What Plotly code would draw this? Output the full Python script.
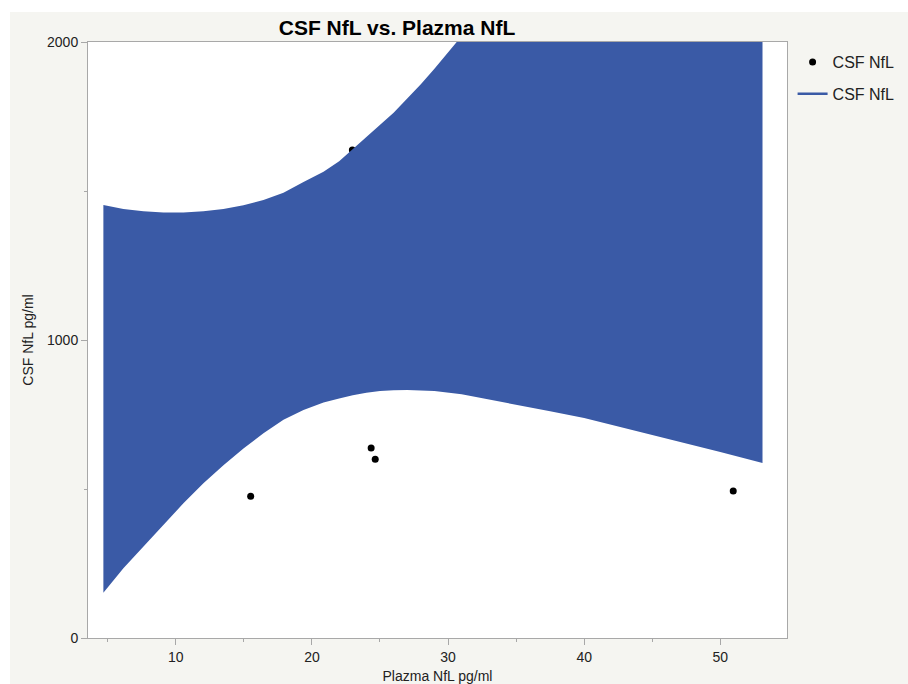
import plotly.graph_objects as go

# Observed data points
plasma_nfl = [15.5, 22.97, 24.35, 24.65, 50.95]
csf_nfl = [476, 1638, 638, 600, 493]

# Confidence band
band_x = [4.68, 6.15, 7.62, 9.09, 10.56, 12.03, 13.5, 14.97, 16.44, 17.91, 19.38, 20.85,
          22, 23, 24, 25, 26, 27, 28, 29, 31, 33, 35, 37.5, 40, 42.5, 45, 47.5, 50, 53.1]
band_upper = [1453, 1440, 1432, 1428, 1428, 1432, 1440, 1452, 1470, 1494, 1530, 1565,
              1600, 1640, 1680, 1720, 1763, 1810, 1858, 1910, 2020, 2140, 2270, 2430, 2600, 2770, 2950, 3130, 3320, 3550]
band_lower = [152, 234, 306, 379, 452, 519, 580, 636, 687, 732, 765, 790,
              804, 815, 823, 829, 831, 832, 831, 829, 818, 802, 783, 761, 738, 710, 680, 652, 624, 587]

x_ticks = [10, 20, 30, 40, 50]
y_ticks = [0, 1000, 2000]

BAND = "rgb(58,90,166)"
FONT = "Liberation Sans, Arial, Helvetica, sans-serif"
BG = "#f5f5f1"

fig = go.Figure()

fig.add_trace(go.Scatter(
    x=plasma_nfl, y=csf_nfl, mode="markers", name="CSF NfL",
    marker=dict(color="black", size=7), legendgroup="a",
))
fig.add_trace(go.Scatter(
    x=band_x + band_x[::-1], y=band_upper + band_lower[::-1],
    fill="toself", fillcolor=BAND, mode="lines", line=dict(width=0, color=BAND),
    showlegend=False, hoverinfo="skip",
))
fig.add_trace(go.Scatter(
    x=[None], y=[None], mode="lines", name="CSF NfL",
    line=dict(color=BAND, width=2.5), legendgroup="b",
))

L, R, T, B = 88, 121, 42, 46
W, H = 908, 684
pw, ph = W - L - R, H - T - B

fig.add_shape(type="rect", xref="paper", yref="paper",
              x0=(10 - L) / pw, x1=(W + 30 - L) / pw,
              y0=-(B + 30) / ph, y1=(H - B - 12) / ph,
              fillcolor=BG, line=dict(width=0), layer="below")
fig.add_shape(type="rect", xref="paper", yref="paper",
              x0=0, x1=1, y0=0, y1=1,
              fillcolor="white", line=dict(width=0), layer="below")

axis_common = dict(
    showline=True, linecolor="#a8a8a8", linewidth=1, mirror=True,
    ticks="outside", ticklen=6, tickcolor="#a8a8a8", showgrid=False,
    zeroline=False, tickfont=dict(family=FONT, size=14, color="#222"),
)

fig.update_xaxes(
    range=[3.55, 54.9], tickvals=x_ticks,
    minor=dict(tickvals=[5, 15, 25, 35, 45], ticks="outside", ticklen=3, tickcolor="#a8a8a8"),
    title=dict(text="Plazma NfL pg/ml", font=dict(family=FONT, size=14, color="#222"), standoff=9),
    **axis_common,
)
fig.update_yaxes(
    range=[0, 2000], tickvals=y_ticks,
    minor=dict(tickvals=[500, 1500], ticks="outside", ticklen=3, tickcolor="#a8a8a8"),
    title=dict(text="CSF NfL pg/ml", font=dict(family=FONT, size=14, color="#222"), standoff=10),
    **axis_common,
)

fig.update_layout(
    width=W, height=H,
    margin=dict(l=L, r=R, t=T, b=B, autoexpand=False),
    paper_bgcolor="white", plot_bgcolor="white",
    title=dict(text="CSF NfL vs. Plazma NfL", x=397 / W, xanchor="center",
               y=1 - 28 / H, yanchor="middle",
               font=dict(family=FONT, size=21, color="black", weight="bold")),
    legend=dict(x=1.008, y=0.995, xanchor="left", yanchor="top",
                bgcolor="rgba(0,0,0,0)", traceorder="grouped", tracegroupgap=8,
                font=dict(family=FONT, size=16, color="#222")),
    showlegend=True,
)

fig.write_html("out.html")
